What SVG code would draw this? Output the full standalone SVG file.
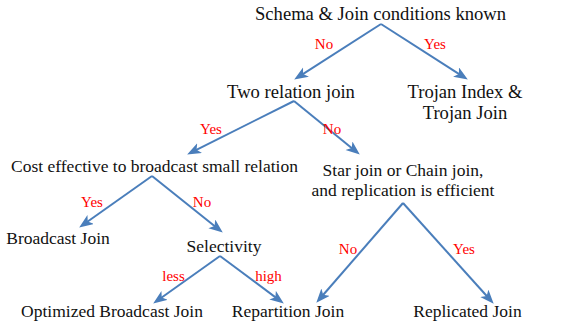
<svg xmlns="http://www.w3.org/2000/svg" width="562" height="326" viewBox="0 0 562 326">
<style>
.t{font-family:'Liberation Serif','DejaVu Serif',serif;font-size:17.5px;fill:#111;text-anchor:middle}
.b{font-size:18.6px}
.l{font-family:'Liberation Serif','DejaVu Serif',serif;font-size:15px;fill:#ff0000;text-anchor:middle}
.c{stroke:#4a7ebb;stroke-width:2;fill:none;marker-end:url(#ah)}
</style>
<defs>
<marker id="ah" markerUnits="userSpaceOnUse" markerWidth="15" markerHeight="12" refX="7" refY="5.5" orient="auto">
<path d="M0,0 L14,5.5 L0,11 L3.5,5.5 z" fill="#4a7ebb"/>
</marker>
</defs>
<rect width="562" height="326" fill="#fff"/>
<g id="connectors">
<path class="c" d="M381,24 L300.1,75.8"/>
<path class="c" d="M381,24 L461.9,75.8"/>
<path class="c" d="M294,101 L193.4,151.3"/>
<path class="c" d="M294,101 L354.4,150.2"/>
<path class="c" d="M152,176 L84.9,223.5"/>
<path class="c" d="M152,176 L217.3,228.2"/>
<path class="c" d="M220,256 L158.9,299.5"/>
<path class="c" d="M220,256 L278.2,299.4"/>
<path class="c" d="M403,203 L320.9,297.5"/>
<path class="c" d="M403,203 L489,298.5"/>
<text class="l" x="324" y="49">No</text>
<text class="l" x="435" y="49">Yes</text>
<text class="l" x="211" y="134">Yes</text>
<text class="l" x="332" y="134">No</text>
<text class="l" x="92" y="207">Yes</text>
<text class="l" x="202" y="207">No</text>
<text class="l" x="173.5" y="281">less</text>
<text class="l" x="268.5" y="281">high</text>
<text class="l" x="348" y="254">No</text>
<text class="l" x="464" y="254">Yes</text>
</g>
<g id="schema"><text class="t b" x="380.5" y="20">Schema &amp; Join conditions known</text></g>
<g id="two-relation"><text class="t b" x="291" y="98">Two relation join</text></g>
<g id="trojan"><text class="t b" x="465" y="98">Trojan Index &amp;</text><text class="t b" x="465" y="119">Trojan Join</text></g>
<g id="cost-effective"><text class="t" x="154.5" y="172">Cost effective to broadcast small relation</text></g>
<g id="star-chain"><text class="t" x="403" y="176">Star join or Chain join,</text><text class="t" x="403" y="196">and replication is efficient</text></g>
<g id="broadcast"><text class="t" x="58" y="244">Broadcast Join</text></g>
<g id="selectivity"><text class="t" x="224" y="252">Selectivity</text></g>
<g id="optimized"><text class="t" x="112" y="317">Optimized Broadcast Join</text></g>
<g id="repartition"><text class="t" x="288" y="317">Repartition Join</text></g>
<g id="replicated"><text class="t" x="467.5" y="317">Replicated Join</text></g>
</svg>
